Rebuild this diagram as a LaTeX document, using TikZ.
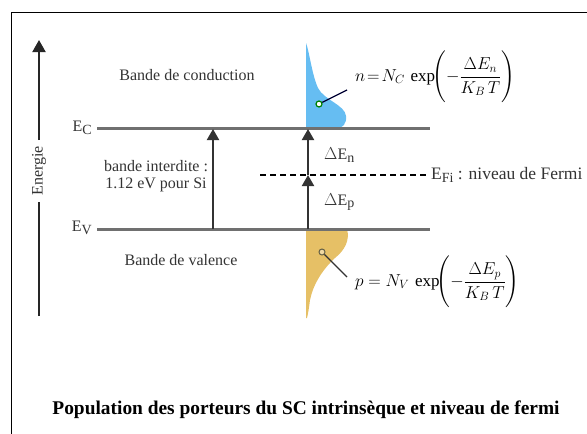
\documentclass[tikz,border=0pt]{standalone}
\usepackage{amsmath}
\usepackage{fontspec}
\setmainfont{Liberation Serif}
\usetikzlibrary{arrows.meta}
\definecolor{txt}{HTML}{333333}
\definecolor{band}{HTML}{707070}
\definecolor{cblue}{HTML}{66BDF2}
\definecolor{cyel}{HTML}{E6C066}
\tikzset{
  lbl/.style={text=txt,font=\fontsize{16}{19}\selectfont,inner sep=0pt},
  bandline/.style={draw=band,line width=3pt},
  uparrow/.style={draw=black!80,line width=2pt,-{Triangle[width=12pt,length=11pt]}},
  formula/.style={inner sep=0pt,text=black},
}
\newcommand{\subl}[1]{\raisebox{-2.5pt}{\fontsize{14}{14}\selectfont #1}}
\begin{document}
\begin{tikzpicture}[x=1pt,y=-1pt]
\useasboundingbox (0,0) rectangle (587,434);
% frame
\draw[black,line width=1.5pt] (11.5,434) -- (11.5,12.5) -- (587,12.5);
% energy axis
\node[lbl,rotate=90,inner sep=6pt] (en) at (39,171) {Energie};
\coordinate (axbot) at (39,316);
\coordinate (axtop) at (39,40);
\draw[black!85,line width=2pt] (axbot) -- (en.west);
\draw[black!85,line width=2pt,-{Triangle[width=13pt,length=12pt]}] (en.east) -- (axtop);
% band lines
\coordinate (ecl) at (97,128);
\coordinate (ecr) at (430,128);
\coordinate (evl) at (97,229);
\coordinate (evr) at (430,229);
% carrier distributions
\fill[cblue] (306,128) -- (306,43) .. controls (309,50) and (312,75) .. (318,88)
  .. controls (324,100) and (345,105) .. (346,116)
  .. controls (347,124) and (342,128) .. (338,128) -- cycle;
\fill[cyel] (306,229) -- (347,229) .. controls (350,240) and (345,250) .. (335,258)
  .. controls (322,270) and (313,285) .. (310,300)
  .. controls (309,308) and (308,314) .. (307,318) -- (306,318) -- cycle;
\draw[bandline] (ecl) -- (ecr);
\draw[bandline] (evl) -- (evr);
\node[lbl,anchor=east] (ec) at (92,128) {E\subl{C}};
\node[lbl,anchor=east] (ev) at (92,228) {E\subl{V}};
% gap arrows
\coordinate (ga) at (213,229);
\coordinate (gb) at (213,129);
\draw[uparrow] (ga) -- (gb);
\coordinate (fa) at (308,229);
\coordinate (fb) at (308,175);
\coordinate (fc) at (308,129);
\draw[uparrow] (fa) -- (fb);
\draw[uparrow] (fb) -- (fc);
% fermi level
\coordinate (efl) at (260,175);
\coordinate (efr) at (429,175);
\draw[black,line width=1.5pt,dash pattern=on 6pt off 4pt] (efl) -- (efr);
\node[lbl,anchor=west,font=\fontsize{17.5}{20}\selectfont] (ef) at (431,175) {E\subl{Fi} : niveau de Fermi};
% labels
\node[lbl] (bc) at (187,75) {Bande de conduction};
\node[lbl] (bv) at (181,260) {Bande de valence};
\node[lbl,align=center] (bi) at (156,176) {bande interdite :\\[-2pt]1.12 eV pour Si};
\node[lbl,anchor=west] (den) at (324,155) {$\Delta$E\subl{n}};
\node[lbl,anchor=west] (dep) at (324,202) {$\Delta$E\subl{p}};
% formulas
\node[draw=green!50!black,fill=white,circle,line width=1.2pt,inner sep=0pt,minimum size=6pt] (gn) at (319,104) {};
\node[draw=black!70!yellow,fill=cyel!60,circle,line width=1pt,inner sep=0pt,minimum size=6pt] (gp) at (322,252) {};
\node[formula,anchor=west] (fn) at (355,77) {\fontsize{17}{20}\selectfont$n\!=\!N_C\,\exp\!\Biggl(-\dfrac{\Delta E_n}{K_B\,T}\Biggr)$};
\node[formula,anchor=west] (fp) at (355,282) {\fontsize{17}{20}\selectfont$p=N_V\,\exp\!\Biggl(-\dfrac{\Delta E_p}{K_B\,T}\Biggr)$};
\draw[black!80!blue,line width=1.2pt] (gn) -- (347,90);
\draw[black!80,line width=1.2pt] (gp) -- (347,277);
% title
\node[inner sep=0pt,font=\fontsize{19.4}{22}\selectfont\bfseries] (title) at (306,410) {Population des porteurs du SC intrinsèque et niveau de fermi};
\end{tikzpicture}
\end{document}
